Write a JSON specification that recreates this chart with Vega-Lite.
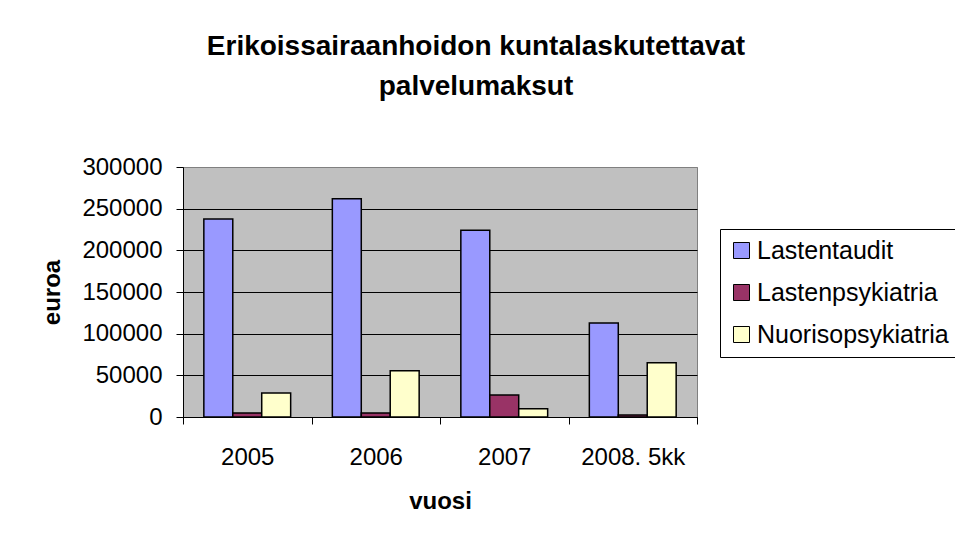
{
  "$schema": "https://vega.github.io/schema/vega-lite/v6.json",
  "width": 514,
  "height": 250,
  "autosize": {"type": "none"},
  "padding": {"left": 183, "top": 167, "right": 258, "bottom": 127},
  "background": "white",
  "title": {
    "text": ["Erikoissairaanhoidon kuntalaskutettavat", "palvelumaksut"],
    "font": "Liberation Sans",
    "fontSize": 28,
    "fontWeight": "bold",
    "color": "black",
    "lineHeight": 40,
    "anchor": "middle",
    "frame": "group",
    "dx": 36,
    "offset": 54
  },
  "data": {
    "values": [
      {"vuosi": "2005", "sarja": "Lastentaudit", "euroa": 237600},
      {"vuosi": "2005", "sarja": "Lastenpsykiatria", "euroa": 4800},
      {"vuosi": "2005", "sarja": "Nuorisopsykiatria", "euroa": 28800},
      {"vuosi": "2006", "sarja": "Lastentaudit", "euroa": 262000},
      {"vuosi": "2006", "sarja": "Lastenpsykiatria", "euroa": 4800},
      {"vuosi": "2006", "sarja": "Nuorisopsykiatria", "euroa": 55600},
      {"vuosi": "2007", "sarja": "Lastentaudit", "euroa": 224000},
      {"vuosi": "2007", "sarja": "Lastenpsykiatria", "euroa": 26400},
      {"vuosi": "2007", "sarja": "Nuorisopsykiatria", "euroa": 10000},
      {"vuosi": "2008. 5kk", "sarja": "Lastentaudit", "euroa": 112800},
      {"vuosi": "2008. 5kk", "sarja": "Lastenpsykiatria", "euroa": 2400},
      {"vuosi": "2008. 5kk", "sarja": "Nuorisopsykiatria", "euroa": 65200}
    ]
  },
  "mark": {"type": "bar", "stroke": "black", "strokeWidth": 1.5},
  "encoding": {
    "x": {
      "field": "vuosi",
      "type": "nominal",
      "scale": {"paddingInner": 0, "paddingOuter": 0},
      "axis": {
        "title": "vuosi",
        "labelAngle": 0,
        "tickBand": "extent",
        "tickSize": 7,
        "labelPadding": 21,
        "titlePadding": 20
      }
    },
    "xOffset": {
      "field": "sarja",
      "type": "nominal",
      "sort": ["Lastentaudit", "Lastenpsykiatria", "Nuorisopsykiatria"],
      "scale": {"domain": ["Lastentaudit", "Lastenpsykiatria", "Nuorisopsykiatria"], "paddingInner": 0, "paddingOuter": 0.72}
    },
    "y": {
      "field": "euroa",
      "type": "quantitative",
      "scale": {"domain": [0, 300000]},
      "axis": {
        "title": "euroa",
        "values": [0, 50000, 100000, 150000, 200000, 250000, 300000],
        "format": "d",
        "tickSize": 7,
        "labelPadding": 14,
        "titlePadding": 17,
        "grid": true,
        "gridColor": {"condition": {"test": "datum.value === 300000", "value": "#808080"}, "value": "black"}
      }
    },
    "color": {
      "field": "sarja",
      "type": "nominal",
      "scale": {
        "domain": ["Lastentaudit", "Lastenpsykiatria", "Nuorisopsykiatria"],
        "range": ["#9999FF", "#993366", "#FFFFCC"]
      },
      "legend": {
        "title": null,
        "orient": "none",
        "legendX": 537,
        "legendY": 62,
        "strokeColor": "black",
        "padding": 9,
        "rowPadding": 16,
        "symbolType": "square",
        "symbolSize": 256,
        "symbolStrokeColor": "black",
        "symbolStrokeWidth": 1,
        "symbolOpacity": 1,
        "labelFont": "Liberation Sans",
        "labelFontSize": 25,
        "labelColor": "black",
        "labelOffset": 3,
        "labelLimit": 400
      }
    }
  },
  "config": {
    "view": {"fill": "#C0C0C0", "stroke": "#808080", "strokeWidth": 1},
    "axis": {
      "labelFont": "Liberation Sans",
      "labelFontSize": 24,
      "labelColor": "black",
      "titleFont": "Liberation Sans",
      "titleFontSize": 24,
      "titleFontWeight": "bold",
      "titleColor": "black",
      "domainColor": "black",
      "domainWidth": 1,
      "tickColor": "black",
      "tickWidth": 1,
      "gridWidth": 1
    },
    "axisX": {"grid": false}
  }
}
